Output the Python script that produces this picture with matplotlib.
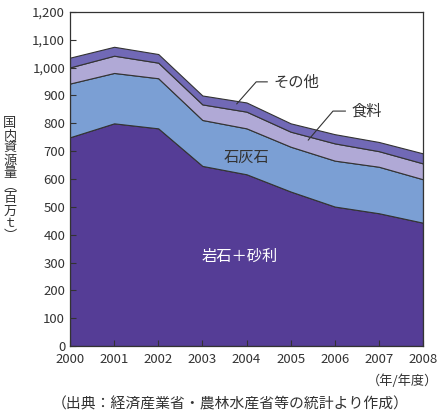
import matplotlib
matplotlib.use("Agg")
import matplotlib.pyplot as plt
from matplotlib.ticker import FuncFormatter

plt.rcParams['font.family'] = ['Noto Sans CJK JP', 'DejaVu Sans']

years = [2000, 2001, 2002, 2003, 2004, 2005, 2006, 2007, 2008]
rock_gravel = [750, 800, 782, 647, 617, 555, 501, 477, 443]
limestone = [193, 181, 180, 165, 165, 161, 165, 167, 156]
food = [58, 62, 56, 56, 60, 54, 62, 56, 57]
other = [35, 32, 31, 32, 33, 30, 33, 33, 36]
series_names = ['岩石＋砂利', '石灰石', '食料', 'その他']
colors = ['#553d96', '#7b9fd4', '#b0a9d6', '#7169b6']
yticks = list(range(0, 1201, 100))

fig = plt.figure(figsize=(4.43, 4.16), dpi=100)
ax = fig.add_axes([70/443, 1 - 346/416, (423-70)/443, (346-12)/416])

ax.stackplot(years, rock_gravel, limestone, food, other, colors=colors,
             edgecolor='#333333', linewidth=0.8)

ax.set_xlim(2000, 2008)
ax.set_ylim(0, 1200)
ax.set_xticks(years)
ax.set_yticks(yticks)
ax.yaxis.set_major_formatter(FuncFormatter(lambda v, p: f"{int(v):,}"))
ax.tick_params(direction='in', length=4, width=0.8, colors='#333333',
               labelsize=9.5, labelcolor='#333333')
ax.tick_params(axis='x', pad=5)
for s in ax.spines.values():
    s.set_color('#333333')
    s.set_linewidth(0.9)

tc = '#333333'
# series labels
ax.text(2004.01, 679, series_names[1], ha='center', va='center', fontsize=11, color=tc)
ax.text(2003.85, 323, series_names[0], ha='center', va='center', fontsize=11, color='white')
ax.plot([2003.78, 2004.22, 2004.47], [870, 949, 949], color=tc, lw=0.8)
ax.text(2004.6, 949, series_names[3], ha='left', va='center', fontsize=11, color=tc)
ax.plot([2005.40, 2005.96, 2006.24], [740, 844, 844], color=tc, lw=0.8)
ax.text(2006.38, 844, series_names[2], ha='left', va='center', fontsize=11, color=tc)

# vertical y-axis label
ylabel = '国内資源量︵百万ｔ︶'
fig.text(10/443, 1 - 180/416, '\n'.join(ylabel), ha='center', va='center',
         fontsize=9.5, color=tc, linespacing=0.95)

fig.text(438/443, 1 - 381/416, '（年/年度）', ha='right', va='center', fontsize=9.5, color=tc)
fig.text(230/443, 1 - 404/416, '（出典：経済産業省・農林水産省等の統計より作成）',
         ha='center', va='center', fontsize=10.7, color=tc)

fig.savefig('out.png', dpi=100)
